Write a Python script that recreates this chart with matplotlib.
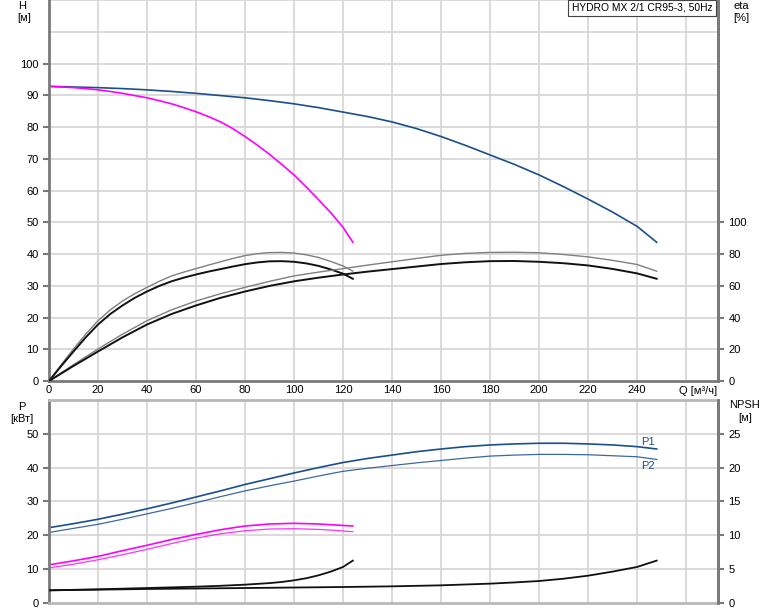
import matplotlib
matplotlib.use("Agg")
import matplotlib.pyplot as plt

plt.rcParams["font.family"] = ["Liberation Sans", "DejaVu Sans"]

TITLE = "HYDRO MX 2/1 CR95-3, 50Hz"

# head curves, Q [m3/h] -> H [m]
q_h2 = [0, 10, 20, 30, 40, 50, 60, 70, 80, 90, 100, 110, 120, 130, 140, 150, 160,
        170, 180, 190, 200, 210, 220, 230, 240, 248]
h_2 = [92.8, 92.6, 92.4, 92.1, 91.7, 91.2, 90.6, 89.9, 89.2, 88.3, 87.3, 86.1, 84.7,
       83.3, 81.6, 79.5, 77.0, 74.2, 71.2, 68.2, 64.9, 61.2, 57.3, 53.2, 48.7, 43.7]
q_h1 = [0, 5, 10, 15, 20, 25, 30, 35, 40, 45, 50, 55, 60, 65, 70, 75, 80,
        85, 90, 95, 100, 105, 110, 115, 120, 124]
h_1 = [92.8, 92.6, 92.4, 92.1, 91.7, 91.2, 90.6, 89.9, 89.2, 88.3, 87.3, 86.1, 84.8,
       83.3, 81.6, 79.5, 77.0, 74.3, 71.4, 68.2, 64.9, 61.1, 57.1, 53.0, 48.4, 43.7]

# efficiency [%]
q_e1 = [0, 5, 10, 15, 20, 25, 30, 35, 40, 45, 50, 55, 60, 65, 70, 75, 80,
        85, 90, 95, 100, 105, 110, 115, 120, 124]
eta_1a = [0, 10.3, 20.2, 29.5, 38.0, 44.8, 50.4, 55.0, 59.0, 62.8, 66.2, 68.6, 70.8,
          73.0, 75.1, 77.2, 79.0, 80.2, 80.9, 81.0, 80.6, 79.5, 77.8, 75.3, 72.5, 69.2]
eta_1b = [0, 9.5, 18.6, 27.5, 35.6, 42.2, 47.6, 52.4, 56.4, 59.9, 62.8, 65.1, 67.1,
          68.9, 70.5, 72.1, 73.6, 74.7, 75.4, 75.5, 75.1, 74.1, 72.5, 70.3, 67.6, 64.4]
q_e2 = [0, 10, 20, 30, 40, 50, 60, 70, 80, 90, 100, 110, 120, 130, 140, 150, 160,
        170, 180, 190, 200, 210, 220, 230, 240, 248]
eta_2a = [0, 10.3, 20.2, 29.5, 38.0, 44.8, 50.4, 55.0, 59.0, 62.8, 66.2, 68.6, 70.8,
          73.0, 75.1, 77.2, 79.2, 80.4, 81.0, 81.1, 80.8, 79.7, 78.2, 76.0, 73.4, 69.2]
eta_2b = [0, 9.5, 18.6, 27.5, 35.6, 42.2, 47.6, 52.4, 56.4, 59.9, 62.8, 65.1, 67.1,
          68.9, 70.5, 72.1, 73.7, 74.8, 75.5, 75.6, 75.1, 74.2, 72.8, 70.6, 67.8, 64.4]

# power [kW]
q_p2 = [0, 10, 20, 30, 40, 50, 60, 70, 80, 90, 100, 110, 120, 130, 140, 150, 160,
        170, 180, 190, 200, 210, 220, 230, 240, 248]
p1_2 = [22.2, 23.4, 24.7, 26.2, 27.8, 29.5, 31.3, 33.1, 35.0, 36.7, 38.4, 40.0, 41.5,
        42.7, 43.7, 44.7, 45.5, 46.2, 46.7, 47.0, 47.2, 47.2, 47.0, 46.7, 46.2, 45.5]
p2_2 = [20.8, 22.0, 23.2, 24.7, 26.3, 27.9, 29.6, 31.4, 33.1, 34.6, 36.0, 37.5, 38.9,
        39.8, 40.6, 41.4, 42.1, 42.8, 43.4, 43.7, 43.9, 43.9, 43.8, 43.5, 43.2, 42.4]
q_p1 = [0, 10, 20, 30, 40, 50, 60, 70, 80, 90, 100, 110, 117, 124]
p1_1 = [11.2, 12.4, 13.7, 15.4, 17.0, 18.7, 20.2, 21.6, 22.7, 23.3, 23.5, 23.3, 23.0, 22.7]
p2_1 = [10.3, 11.4, 12.7, 14.2, 15.8, 17.5, 19.1, 20.4, 21.3, 21.8, 21.9, 21.7, 21.4, 21.0]

# NPSH [m]
q_n1 = [0, 20, 40, 60, 70, 80, 90, 95, 100, 105, 110, 115, 120, 124]
npsh_1 = [1.83, 1.98, 2.17, 2.37, 2.5, 2.67, 2.9, 3.07, 3.31, 3.62, 4.05, 4.6, 5.29, 6.23]
q_n2 = [0, 40, 80, 120, 140, 160, 180, 190, 200, 210, 220, 230, 240, 248]
npsh_2 = [1.83, 2.03, 2.17, 2.32, 2.42, 2.57, 2.82, 3.0, 3.21, 3.55, 4.0, 4.6, 5.29, 6.23]

NAVY = "#1a4f8b"
MAG = "#ff00ff"
GRID = "#d4d4d4"
SPINE = "#7a7a7a"
FS = 8

fig = plt.figure(figsize=(7.74, 6.11), dpi=100)
ax_h = fig.add_axes([0.0633, 0.3764, 0.8643, 0.6236])
ax_p = fig.add_axes([0.0633, 0.0136, 0.8643, 0.3317])
ax_e = ax_h.twinx()
ax_n = ax_p.twinx()

xt = list(range(0, 261, 20))
for ax in (ax_h, ax_p):
    ax.set_xlim(0, 273)
    ax.set_xticks(xt)
    for x in xt:
        ax.axvline(x, color=GRID, lw=1.2, zorder=0)
    ax.tick_params(axis="both", labelsize=FS, length=4, color=SPINE, width=1.5)
    ax.spines["top"].set_visible(False)
    for s in ("left", "right", "bottom"):
        ax.spines[s].set_color(SPINE)
        ax.spines[s].set_linewidth(2)

# top panel: head + efficiency
ax_h.set_ylim(0, 120)
ax_h.set_yticks(range(0, 101, 10))
for y in range(10, 121, 10):
    ax_h.axhline(y, color=GRID, lw=1.2, zorder=0)
ax_h.set_xticklabels([str(x) for x in xt[:-1]] + [""])
ax_h.tick_params(axis="x", length=0, pad=3)
ax_h.plot(q_h2, h_2, color=NAVY, lw=1.2)
ax_h.plot(q_h1, h_1, color=MAG, lw=1.2)

ax_e.set_ylim(0, 240)
ax_e.set_yticks(range(0, 101, 20))
ax_e.tick_params(axis="y", labelsize=FS, length=4, color=SPINE, width=1.5)
for s in ("top", "left", "bottom"):
    ax_e.spines[s].set_visible(False)
ax_e.spines["right"].set_color(SPINE)
ax_e.spines["right"].set_linewidth(2)
ax_e.plot(q_e1, eta_1a, color="#7f7f7f", lw=1.0)
ax_e.plot(q_e1, eta_1b, color="#111111", lw=1.4)
ax_e.plot(q_e2, eta_2a, color="#7f7f7f", lw=1.0)
ax_e.plot(q_e2, eta_2b, color="#111111", lw=1.4)

# bottom panel: power + NPSH
ax_p.set_ylim(0, 60)
ax_p.set_yticks(range(0, 51, 10))
for y in range(10, 61, 10):
    ax_p.axhline(y, color=GRID, lw=1.2, zorder=0)
ax_p.tick_params(axis="x", labelbottom=False, length=0)
ax_p.spines["top"].set_visible(True)
ax_p.spines["top"].set_color("#b8b8b8")
ax_p.spines["top"].set_linewidth(2)
ax_p.spines["bottom"].set_color("#b8b8b8")
ax_p.plot(q_p2, p1_2, color=NAVY, lw=1.2)
ax_p.plot(q_p2, p2_2, color=NAVY, lw=0.9, alpha=0.85)
ax_p.plot(q_p1, p1_1, color=MAG, lw=1.2)
ax_p.plot(q_p1, p2_1, color=MAG, lw=0.9, alpha=0.8)
ax_p.text(244.5, 47.6, "P1", color=NAVY, fontsize=FS, ha="center", va="center")
ax_p.text(244.5, 40.4, "P2", color=NAVY, fontsize=FS, ha="center", va="center")

ax_n.set_ylim(0, 30)
ax_n.set_yticks(range(0, 26, 5))
ax_n.tick_params(axis="y", labelsize=FS, length=4, color=SPINE, width=1.5)
for s in ("top", "left", "bottom"):
    ax_n.spines[s].set_visible(False)
ax_n.spines["right"].set_color(SPINE)
ax_n.spines["right"].set_linewidth(2)
ax_n.plot(q_n1, npsh_1, color="#111111", lw=1.3)
ax_n.plot(q_n2, npsh_2, color="#111111", lw=1.3)

# axis captions
W, H = 774.0, 611.0
def ftext(x, y, s, size=FS, **kw):
    fig.text(x / W, 1 - y / H, s, fontsize=size, ha="center", va="center", **kw)

ftext(22, 6, "H")
ftext(24, 18, "[м]")
ftext(741, 6, "eta")
ftext(741, 18, "[%]")
ftext(22, 407, "P")
ftext(22, 419, "[кВт]")
ftext(745, 405, "NPSH")
ftext(745, 418, "[м]")
ftext(698, 391, "Q [м³/ч]")
ftext(642, 8, TITLE, size=7.4,
      bbox=dict(facecolor="white", edgecolor="#444444", linewidth=0.8, pad=2.5))

fig.savefig("out.png", dpi=100)
